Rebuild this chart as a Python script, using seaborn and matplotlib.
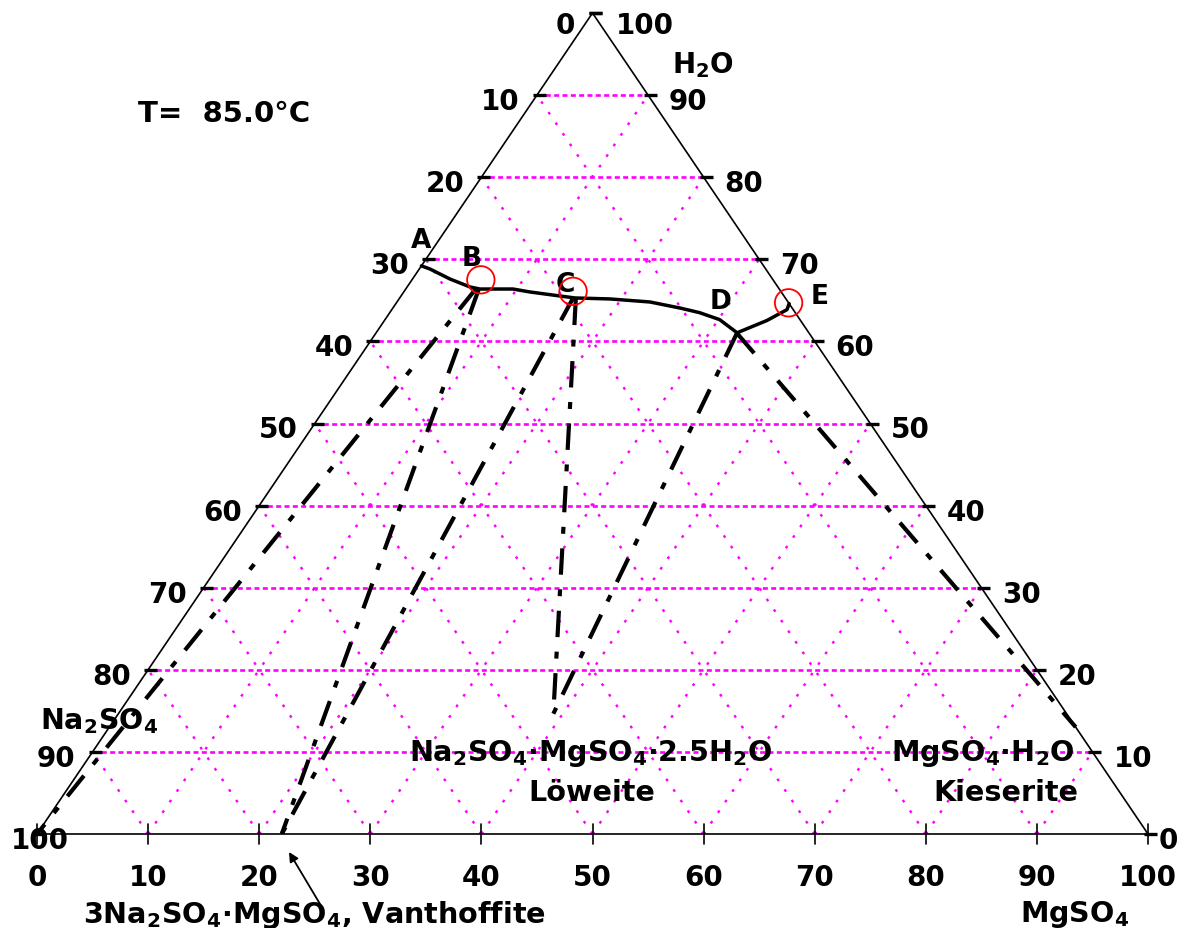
import matplotlib
matplotlib.use("Agg")
import matplotlib.pyplot as plt
import seaborn as sns
import numpy as np

# ---------------- data (mass %) ----------------
temperature_label = "T=  85.0°C"
scale_ticks = [0, 10, 20, 30, 40, 50, 60, 70, 80, 90, 100]

# saturation curve A-B-C-D-E  (MgSO4 %, H2O %)
curve_mgso4 = [0.0, 0.96, 3.37, 5.66, 6.68, 9.65, 11.36, 14.31, 15.78, 18.99,
               22.78, 25.90, 27.89, 30.12, 32.49, 34.43, 35.57, 35.4]
curve_h2o = [69.2, 68.82, 67.60, 66.63, 66.38, 66.38, 66.02, 65.53, 65.29, 65.17,
             64.80, 64.05, 63.50, 62.65, 61.05, 62.55, 63.87, 64.6]

# experimental invariant points (red circles)
circle_mgso4 = [6.2, 15.2, 35.3]
circle_h2o = [67.5, 66.1, 64.7]

# tie lines: liquid point -> solid phase
tie_start_mgso4 = [6.3, 6.6, 15.6, 15.9, 32.5, 32.5]
tie_start_h2o = [66.4, 66.3, 65.4, 65.2, 61.0, 61.0]
tie_end_mgso4 = [0.0, 22.03, 22.03, 39.15, 39.15, 86.98]
tie_end_h2o = [0.0, 0.0, 0.0, 14.65, 14.65, 13.02]

point_names = ["A", "B", "C", "D", "E"]


def to_xy(m, w):
    m = np.asarray(m, float)
    w = np.asarray(w, float)
    return m + w / 2.0, w


# ---------------- figure ----------------
sns.set_theme(style="white")
plt.rcParams["font.family"] = ["DejaVu Sans"]
plt.rcParams["mathtext.default"] = "regular"
plt.rcParams["lines.scale_dashes"] = False

W, H = 1192, 929
L, R, B, T = 37, 1148, 835, 14
fig = plt.figure(figsize=(W / 100, H / 100), dpi=100)
fig.patch.set_facecolor("white")
ax = fig.add_axes([L / W, 1 - B / H, (R - L) / W, (B - T) / H])
ax.set_xlim(0, 100)
ax.set_ylim(0, 100)
ax.axis("off")
PX = 100.0 / (R - L)
PY = 100.0 / (B - T)


def pos(px, py):
    return (px - L) * PX, (B - py) * PY


MAG = "#FF00FF"
# grid
for k in scale_ticks[1:-1]:
    ax.plot([k / 2, 100 - k / 2], [k, k], color=MAG, lw=1.9,
            linestyle=(0, (3.6, 2.4)), zorder=1, clip_on=False)
    ax.plot([k, k + (100 - k) / 2], [0, 100 - k], color=MAG, lw=1.7,
            linestyle=(0, (2.0, 7.2)), zorder=1, clip_on=False)
    ax.plot([100 - k, (100 - k) / 2], [0, 100 - k], color=MAG, lw=1.7,
            linestyle=(0, (2.0, 7.2)), zorder=1, clip_on=False)

# triangle frame
ax.plot([0, 100, 50, 0], [0, 0, 100, 0], color="black", lw=1.2,
        zorder=2, clip_on=False)

# edge ticks
for k in scale_ticks:
    for xe in (k / 2, 100 - k / 2):
        ax.plot([xe - 4 * PX, xe + 9 * PX], [k, k], color="black", lw=2.4,
                solid_capstyle="butt", zorder=3, clip_on=False)
    ax.plot([k, k], [-10 * PY, 10 * PY], color="black", lw=1.2,
            zorder=3, clip_on=False)

# tie lines
for xs, ws, xe, we in zip(tie_start_mgso4, tie_start_h2o, tie_end_mgso4, tie_end_h2o):
    tx, ty = to_xy([xs, xe], [ws, we])
    sns.lineplot(x=tx, y=ty, sort=False, estimator=None, color="black", lw=3.0,
                 linestyle=(0, (19, 10.5, 5, 10.5)), ax=ax, zorder=4)

# saturation curve
cx, cy = to_xy(curve_mgso4, curve_h2o)
sns.lineplot(x=cx, y=cy, sort=False, estimator=None, color="black", lw=2.5,
             ax=ax, zorder=5)

# circles
qx, qy = to_xy(circle_mgso4, circle_h2o)
ax.scatter(qx, qy, s=390, facecolors="none", edgecolors="red", linewidths=1.3,
           zorder=6, clip_on=False)

# ---------------- text ----------------
FS = 20
kw = dict(fontweight="bold", color="black", va="center_baseline")

# left scale (Na2SO4)
for n in scale_ticks:
    w = 100 - n
    xe = w / 2
    if n == 100:
        ax.text(*pos(40, 838), str(n), ha="center", fontsize=FS, **kw)
    elif n == 0:
        ax.text(*pos(575, 23), str(n), ha="right", fontsize=FS, **kw)
    else:
        ax.text(xe - 17 * PX, w - 3 * PY, str(n), ha="right", fontsize=FS, **kw)

# right scale (H2O)
for w in scale_ticks:
    xe = 100 - w / 2
    if w == 100:
        ax.text(*pos(616, 23), str(w), ha="left", fontsize=FS, **kw)
    elif w == 0:
        ax.text(xe + 11 * PX, w - 3 * PY, str(w), ha="left", fontsize=FS, **kw)
    else:
        ax.text(xe + 21 * PX, w - 3 * PY, str(w), ha="left", fontsize=FS, **kw)

# bottom scale (MgSO4)
for m in scale_ticks:
    ax.text(m, (B - 875) * PY, str(m), ha="center", fontsize=FS, **kw)

# point letters
letter_px = [(421, 238), (472, 256), (565, 282), (721, 299), (820, 294)]
for name, (px, py) in zip(point_names, letter_px):
    ax.text(*pos(px, py), name, ha="center", fontsize=19, **kw)

ax.text(*pos(224, 111), temperature_label, ha="center", fontsize=21, **kw)
ax.text(*pos(703, 62), r"H$_2$O", ha="center", fontsize=FS, **kw)
ax.text(*pos(99, 718), r"Na$_2$SO$_4$", ha="center", fontsize=20.5, **kw)
ax.text(*pos(591, 750), r"Na$_2$SO$_4$·MgSO$_4$·2.5H$_2$O", ha="center", fontsize=20.6, **kw)
ax.text(*pos(592, 790), "Löweite", ha="center", fontsize=20.6, **kw)
ax.text(*pos(983, 750), r"MgSO$_4$·H$_2$O", ha="center", fontsize=20.6, **kw)
ax.text(*pos(1006, 790), "Kieserite", ha="center", fontsize=20.6, **kw)
ax.text(*pos(314, 911), r"3Na$_2$SO$_4$·MgSO$_4$, Vanthoffite", ha="center", fontsize=20.6, **kw)
ax.text(*pos(1075, 911), r"MgSO$_4$", ha="center", fontsize=20.6, **kw)

ax.annotate("", xy=pos(289, 853), xytext=pos(323, 910),
            arrowprops=dict(arrowstyle="-|>", color="black", lw=1.3,
                            mutation_scale=14, shrinkA=0, shrinkB=0),
            annotation_clip=False)

fig.savefig("out.png", dpi=100, facecolor="white")
